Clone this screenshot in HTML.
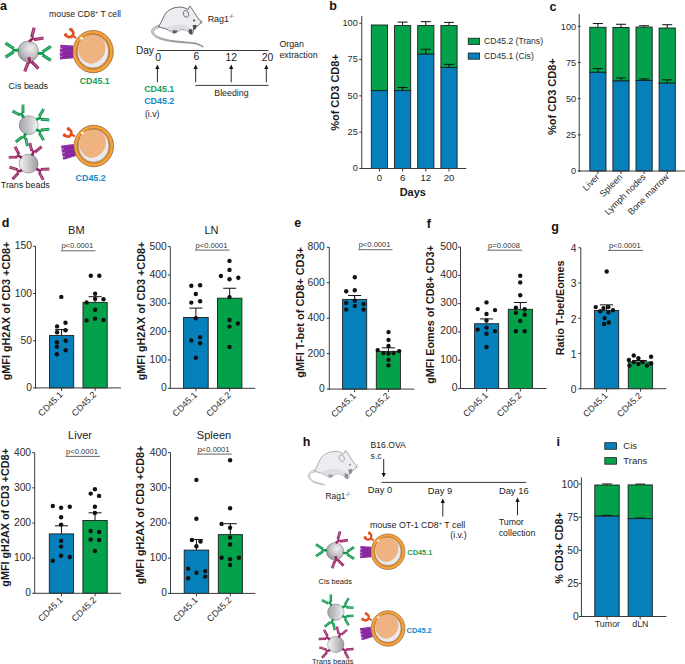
<!DOCTYPE html>
<html><head><meta charset="utf-8"><style>
html,body{margin:0;padding:0;background:#fff;}
svg{display:block;font-family:"Liberation Sans", sans-serif;}
</style></head><body>
<svg width="685" height="664" viewBox="0 0 685 664">

<defs>
  <radialGradient id="beadA" cx="0.62" cy="0.35" r="0.75">
    <stop offset="0" stop-color="#efefef"/><stop offset="0.55" stop-color="#c2c2c6"/><stop offset="1" stop-color="#88888e"/>
  </radialGradient>
  <linearGradient id="beadR" x1="0" y1="0" x2="1" y2="0">
    <stop offset="0" stop-color="#a3a3a8"/><stop offset="0.6" stop-color="#cfcfd2"/><stop offset="1" stop-color="#f4f4f4"/>
  </linearGradient>
  <linearGradient id="beadL" x1="0" y1="0" x2="1" y2="0">
    <stop offset="0" stop-color="#f4f4f4"/><stop offset="0.45" stop-color="#cfcfd2"/><stop offset="1" stop-color="#9b9ba0"/>
  </linearGradient>
  <g id="ab">
    <rect x="-0.8" y="-1.45" width="6.4" height="2.9" fill="currentColor"/>
    <g transform="translate(4.8,-2.0) rotate(-33)">
      <rect x="-0.6" y="-1.6" width="9.8" height="3.2" fill="currentColor"/>
      <line x1="1.0" y1="0" x2="9.0" y2="0" stroke="#fff" stroke-width="0.45" opacity="0.7"/>
    </g>
    <g transform="translate(4.8,2.0) rotate(33)">
      <rect x="-0.6" y="-1.6" width="9.8" height="3.2" fill="currentColor"/>
      <line x1="1.0" y1="0" x2="9.0" y2="0" stroke="#fff" stroke-width="0.45" opacity="0.7"/>
    </g>
  </g>
  <g id="ab2">
    <rect x="-0.8" y="-1.4" width="5.6" height="2.8" fill="currentColor"/>
    <g transform="translate(4.0,-2.0) rotate(-32)">
      <rect x="-0.6" y="-1.45" width="8.6" height="2.9" fill="currentColor"/>
      <line x1="1.0" y1="0" x2="8.0" y2="0" stroke="#fff" stroke-width="0.45" opacity="0.7"/>
    </g>
    <g transform="translate(4.0,2.0) rotate(32)">
      <rect x="-0.6" y="-1.45" width="8.6" height="2.9" fill="currentColor"/>
      <line x1="1.0" y1="0" x2="8.0" y2="0" stroke="#fff" stroke-width="0.45" opacity="0.7"/>
    </g>
  </g>
  <g id="trec">
    <path d="M-20.0,-6.0 L-33.0,-6.8 L-32.6,-3.2 L-33.4,-2.6 L-32.8,0.8 L-33.6,1.4 L-32.9,4.6 L-33.5,5.2 L-33.0,7.9 L-19.8,6.6 Z" fill="#8e2ca5"/>
    <path d="M-33.6,-3.0 L-30.6,-2.9 M-33.8,1.1 L-30.4,1.15 M-33.8,4.9 L-30.8,4.85" stroke="#fff" stroke-width="0.45"/>
    <path d="M-30.6,-2.9 L-21,-2.6 M-30.4,1.15 L-21,1.3 M-30.8,4.85 L-21,4.6" stroke="#6a1d80" stroke-width="0.4"/>
    <path d="M-17.0,-13.4 L-21.4,-16.6" stroke="#e2501d" stroke-width="2.2"/>
    <path d="M-27.3,-16.9 A3.9,3.9 0 1 0 -22.4,-22.0" fill="none" stroke="#e2501d" stroke-width="2.8" stroke-linecap="round"/>
    <circle cx="-27.4" cy="-16.6" r="1.7" fill="#e2501d"/>
    <circle cx="-22.2" cy="-22.2" r="1.7" fill="#e2501d"/>
  </g>
  <g id="tbody">
    <ellipse cx="0" cy="0" rx="20.2" ry="21.2" fill="#f5a23a" stroke="#6b4524" stroke-width="0.6"/>
    <ellipse cx="-0.1" cy="-0.1" rx="16.7" ry="17.7" fill="none" stroke="#6b4524" stroke-width="0.45"/>
    <ellipse cx="-0.2" cy="-0.2" rx="15.7" ry="16.7" fill="#e9e9ee" stroke="#6b4524" stroke-width="0.45"/>
    <path d="M-1.2,-16.6 C4.8,-16.6 10.3,-13.3 11.9,-7.8 C12.9,-3.3 12.3,1 10.3,4.2 C8.3,7.4 4.3,11.4 -1.5,12.1 C-7.2,12.5 -12.9,8 -14.7,1 C-15.9,-6 -13.1,-13.1 -7.2,-15.7 C-5.3,-16.4 -3.2,-16.6 -1.2,-16.6 Z" fill="#efb381"/>
    <circle cx="-11.6" cy="-13.2" r="1.3" fill="#fff"/>
  </g>
</defs>

<g transform="translate(28.2,51.4) scale(1.0)">
<circle cx="0" cy="0" r="10.4" fill="url(#beadA)" stroke="#6d6d70" stroke-width="0.55"/>
<use href="#ab" transform="translate(-10.20,-1.20) rotate(180)" style="color:#0f9a4e"/>
<use href="#ab" transform="translate(10.20,2.00) rotate(0)" style="color:#0f9a4e"/>
<use href="#ab" transform="translate(1.40,-10.20) rotate(-42)" style="color:#982866"/>
<use href="#ab" transform="translate(0.80,6.40) rotate(78)" style="color:#982866"/>
</g>
<g transform="translate(93.1,51.6) scale(1.0)"><use href="#trec" transform="rotate(0)"/><use href="#tbody"/></g>
<g transform="translate(28.7,125.2) scale(1.0)">
<circle cx="0" cy="0" r="9.5" fill="url(#beadR)" stroke="#6d6d70" stroke-width="0.55"/>
<use href="#ab2" transform="translate(-5.30,-8.20) rotate(-122)" style="color:#0f9a4e"/>
<use href="#ab2" transform="translate(8.20,-5.80) rotate(-27)" style="color:#0f9a4e"/>
<use href="#ab2" transform="translate(8.20,4.70) rotate(27)" style="color:#0f9a4e"/>
<use href="#ab2" transform="translate(-3.40,8.80) rotate(110)" style="color:#0f9a4e"/>
</g>
<g transform="translate(28.6,163.6) scale(1.0)">
<circle cx="0" cy="0" r="9.5" fill="url(#beadL)" stroke="#6d6d70" stroke-width="0.55"/>
<use href="#ab2" transform="translate(-7.40,-6.20) rotate(-150)" style="color:#982866"/>
<use href="#ab2" transform="translate(3.80,-8.60) rotate(-72)" style="color:#982866"/>
<use href="#ab2" transform="translate(-7.20,6.90) rotate(166)" style="color:#982866"/>
<use href="#ab2" transform="translate(8.30,5.60) rotate(29)" style="color:#982866"/>
</g>
<g transform="translate(93.8,146.0) scale(0.98)"><use href="#trec" transform="rotate(-11)"/><use href="#tbody"/></g>
<g transform="translate(335.0,551.3) scale(0.84)">
<circle cx="0" cy="0" r="10.4" fill="url(#beadA)" stroke="#6d6d70" stroke-width="0.55"/>
<use href="#ab" transform="translate(-10.20,-1.20) rotate(180)" style="color:#0f9a4e"/>
<use href="#ab" transform="translate(10.20,2.00) rotate(0)" style="color:#0f9a4e"/>
<use href="#ab" transform="translate(1.40,-10.20) rotate(-42)" style="color:#982866"/>
<use href="#ab" transform="translate(0.80,6.40) rotate(78)" style="color:#982866"/>
</g>
<g transform="translate(388.0,551.7) scale(0.84)"><use href="#trec" transform="rotate(0)"/><use href="#tbody"/></g>
<g transform="translate(335.8,612.2) scale(0.86)">
<circle cx="0" cy="0" r="9.5" fill="url(#beadR)" stroke="#6d6d70" stroke-width="0.55"/>
<use href="#ab2" transform="translate(-5.30,-8.20) rotate(-122)" style="color:#0f9a4e"/>
<use href="#ab2" transform="translate(8.20,-5.80) rotate(-27)" style="color:#0f9a4e"/>
<use href="#ab2" transform="translate(8.20,4.70) rotate(27)" style="color:#0f9a4e"/>
<use href="#ab2" transform="translate(-3.40,8.80) rotate(110)" style="color:#0f9a4e"/>
</g>
<g transform="translate(335.8,644.4) scale(0.86)">
<circle cx="0" cy="0" r="9.5" fill="url(#beadL)" stroke="#6d6d70" stroke-width="0.55"/>
<use href="#ab2" transform="translate(-7.40,-6.20) rotate(-150)" style="color:#982866"/>
<use href="#ab2" transform="translate(3.80,-8.60) rotate(-72)" style="color:#982866"/>
<use href="#ab2" transform="translate(-7.20,6.90) rotate(166)" style="color:#982866"/>
<use href="#ab2" transform="translate(8.30,5.60) rotate(29)" style="color:#982866"/>
</g>
<g transform="translate(388.0,628.5) scale(0.84)"><use href="#trec" transform="rotate(-11)"/><use href="#tbody"/></g>
<g transform="translate(0,0)" opacity="1.0">
<path d="M159.08,25.09 L158.81,25.23 L158.44,25.40 L157.99,25.59 L157.48,25.82 L156.92,26.07 L156.34,26.33 L155.75,26.61 L155.16,26.89 L154.61,27.19 L154.09,27.48 L153.62,27.79 L153.22,28.11 L152.89,28.43 L152.61,28.75 L152.38,29.09 L152.18,29.43 L152.03,29.78 L151.91,30.13 L151.83,30.47 L151.78,30.81 L151.75,31.14 L151.75,31.46 L151.76,31.78 L151.79,32.08 L151.84,32.39 L151.91,32.70 L152.00,33.01 L152.12,33.32 L152.26,33.63 L152.42,33.93 L152.61,34.23 L152.82,34.52 L153.06,34.81 L153.32,35.09 L153.61,35.37 L153.93,35.64 L154.25,35.91 L154.59,36.17 L154.95,36.44 L155.34,36.71 L155.75,36.98 L156.19,37.25 L156.66,37.52 L157.17,37.78 L157.71,38.04 L158.29,38.29 L158.92,38.54 L159.59,38.79 L160.31,39.03 L161.07,39.27 L161.88,39.51 L162.74,39.75 L163.62,39.99 L164.55,40.22 L165.50,40.44 L166.47,40.66 L167.46,40.87 L168.47,41.07 L169.49,41.25 L170.51,41.42 L171.57,41.58 L172.66,41.72 L173.79,41.85 L174.94,41.96 L176.11,42.07 L177.29,42.17 L178.48,42.26 L179.66,42.36 L180.82,42.45 L181.96,42.54 L183.08,42.63 L184.16,42.74 L185.22,42.83 L186.29,42.92 L187.35,43.00 L188.41,43.08 L189.45,43.15 L190.47,43.23 L191.46,43.31 L192.43,43.40 L193.37,43.51 L194.26,43.63 L195.12,43.77 L195.92,43.93 L196.69,44.13 L197.44,44.37 L198.17,44.64 L198.88,44.93 L199.56,45.24 L200.20,45.55 L200.81,45.85 L201.37,46.15 L201.88,46.42 L202.34,46.66 L202.75,46.87 L203.09,47.03 L203.31,46.57 L202.98,46.41 L202.60,46.20 L202.15,45.94 L201.64,45.65 L201.08,45.34 L200.47,45.02 L199.82,44.69 L199.13,44.36 L198.41,44.04 L197.66,43.75 L196.88,43.49 L196.08,43.27 L195.25,43.08 L194.38,42.92 L193.46,42.78 L192.52,42.66 L191.54,42.55 L190.53,42.45 L189.51,42.36 L188.47,42.27 L187.42,42.17 L186.36,42.08 L185.30,41.98 L184.24,41.86 L183.16,41.75 L182.05,41.64 L180.90,41.53 L179.74,41.42 L178.56,41.31 L177.38,41.21 L176.21,41.09 L175.04,40.97 L173.90,40.84 L172.79,40.70 L171.72,40.54 L170.69,40.38 L169.68,40.19 L168.68,39.99 L167.69,39.78 L166.72,39.56 L165.76,39.33 L164.83,39.10 L163.93,38.85 L163.06,38.61 L162.23,38.36 L161.44,38.11 L160.70,37.86 L160.01,37.61 L159.38,37.37 L158.80,37.12 L158.26,36.87 L157.77,36.61 L157.31,36.36 L156.89,36.10 L156.49,35.84 L156.13,35.59 L155.79,35.33 L155.47,35.07 L155.16,34.81 L154.87,34.56 L154.61,34.32 L154.39,34.08 L154.19,33.85 L154.02,33.62 L153.88,33.40 L153.76,33.18 L153.65,32.97 L153.57,32.76 L153.51,32.55 L153.46,32.34 L153.43,32.13 L153.41,31.92 L153.40,31.70 L153.40,31.47 L153.42,31.25 L153.45,31.04 L153.49,30.84 L153.55,30.64 L153.63,30.44 L153.73,30.25 L153.85,30.06 L154.00,29.87 L154.18,29.68 L154.38,29.49 L154.66,29.30 L155.03,29.07 L155.48,28.83 L155.99,28.57 L156.54,28.32 L157.11,28.07 L157.68,27.83 L158.23,27.60 L158.75,27.39 L159.22,27.20 L159.61,27.04 L159.92,26.91 Z" fill="#f0f0f3" stroke="#3c3c40" stroke-width="0.55" stroke-linejoin="round"/>
<path d="M158.5,26.6 C160,24.5 161.8,21 163.3,17.8 C164.6,14.5 166,12.5 168.5,10.6 C171.5,8.5 175,7.3 179,7.1 C182.5,7 185.5,7.9 188,9.6 L189.8,6.0 C191.6,8 193.4,11 194.9,13.5 C196.7,16.3 198.4,19 200.9,21.6 C200.7,23 200,24.1 198.5,25.2 C197,26.2 195.5,27 194.2,28 C193.6,30.5 192.9,33 192.1,34.6 C190.1,33.3 188.6,31.9 187.4,31 C185,29.8 183,29.1 180.5,29.7 C178.2,31.2 176,33 173.1,32.7 C170.5,31.3 168,29.6 165,28.6 C162.5,27.9 160.5,27.5 158.5,26.6 Z" fill="#ececf1" stroke="#3c3c40" stroke-width="0.75" stroke-linejoin="round"/>
<path d="M165,27.6 C170,25.5 176,24.6 181.5,24.8 C185.5,25 188.5,26.4 190.5,28.6 C189.3,29.8 188.2,30.8 187.4,31 C185,29.8 183,29.1 180.5,29.7 C178.2,31.2 176,33 173.1,32.7 C170.5,31.3 168,29.2 165,27.6 Z" fill="#dcdce3"/>
<ellipse cx="186.0" cy="13.9" rx="2.7" ry="3.5" transform="rotate(-20 186 13.9)" fill="#e6e6ec" stroke="#3c3c40" stroke-width="0.6"/>
<circle cx="194.1" cy="20.4" r="1.0" fill="#3c3c40"/>
<path d="M172.3,30.3 L173.2,33.2 L175,33.4 L176.6,32.6 L177.4,30.4 Z" fill="#5a5a5e"/>
<path d="M188.8,29 L189.2,33.5 L190.6,34.6 L192.2,33.4 L192.4,29.6 Z M192.6,25.2 L193.4,29.4 L195.4,29.6 L196.8,26.8 L196.2,24.8 Z" fill="#4e4e52"/>
<path d="M200.6,21.4 L202.4,19.6 M200.8,22 L202.8,22.4 M200.4,22.4 L201.8,24.2" stroke="#3c3c40" stroke-width="0.4"/>
</g>
<g transform="translate(155.7,444.3)" opacity="0.95">
<path d="M161.62,25.04 L161.35,25.13 L160.99,25.24 L160.55,25.37 L160.05,25.51 L159.50,25.67 L158.93,25.83 L158.34,26.01 L157.76,26.20 L157.19,26.40 L156.65,26.60 L156.15,26.82 L155.71,27.05 L155.33,27.27 L154.97,27.50 L154.63,27.75 L154.31,28.00 L154.01,28.26 L153.73,28.53 L153.48,28.82 L153.25,29.11 L153.04,29.42 L152.87,29.74 L152.73,30.07 L152.63,30.41 L152.56,30.76 L152.53,31.11 L152.54,31.46 L152.58,31.82 L152.64,32.17 L152.74,32.52 L152.87,32.87 L153.02,33.21 L153.19,33.55 L153.39,33.89 L153.62,34.21 L153.86,34.53 L154.11,34.84 L154.38,35.15 L154.67,35.46 L154.98,35.78 L155.32,36.10 L155.68,36.41 L156.08,36.73 L156.51,37.03 L156.98,37.33 L157.49,37.62 L158.04,37.90 L158.64,38.17 L159.33,38.43 L160.14,38.69 L161.03,38.95 L161.97,39.20 L162.96,39.45 L163.95,39.69 L164.93,39.92 L165.86,40.13 L166.73,40.32 L167.50,40.48 L168.14,40.63 L168.64,40.74 L168.76,40.26 L168.27,40.12 L167.62,39.95 L166.86,39.76 L166.00,39.54 L165.08,39.31 L164.11,39.06 L163.13,38.80 L162.16,38.53 L161.23,38.25 L160.37,37.98 L159.60,37.70 L158.96,37.43 L158.41,37.16 L157.91,36.88 L157.45,36.59 L157.03,36.30 L156.65,36.00 L156.31,35.70 L155.99,35.39 L155.70,35.09 L155.43,34.78 L155.19,34.47 L154.96,34.17 L154.74,33.87 L154.55,33.58 L154.38,33.30 L154.24,33.01 L154.12,32.73 L154.02,32.45 L153.95,32.18 L153.90,31.92 L153.87,31.67 L153.86,31.43 L153.88,31.20 L153.92,30.99 L153.97,30.79 L154.05,30.60 L154.15,30.41 L154.28,30.22 L154.43,30.03 L154.61,29.84 L154.82,29.64 L155.04,29.45 L155.29,29.26 L155.57,29.08 L155.86,28.89 L156.17,28.72 L156.49,28.55 L156.84,28.40 L157.27,28.24 L157.76,28.08 L158.29,27.92 L158.85,27.76 L159.42,27.62 L159.98,27.48 L160.52,27.35 L161.03,27.23 L161.48,27.13 L161.87,27.04 L162.18,26.96 Z" fill="#f0f0f3" stroke="#8c8c92" stroke-width="0.55" stroke-linejoin="round"/>
<path d="M158.5,26.6 C160,24.5 161.8,21 163.3,17.8 C164.6,14.5 166,12.5 168.5,10.6 C171.5,8.5 175,7.3 179,7.1 C182.5,7 185.5,7.9 188,9.6 L189.8,6.0 C191.6,8 193.4,11 194.9,13.5 C196.7,16.3 198.4,19 200.9,21.6 C200.7,23 200,24.1 198.5,25.2 C197,26.2 195.5,27 194.2,28 C193.6,30.5 192.9,33 192.1,34.6 C190.1,33.3 188.6,31.9 187.4,31 C185,29.8 183,29.1 180.5,29.7 C178.2,31.2 176,33 173.1,32.7 C170.5,31.3 168,29.6 165,28.6 C162.5,27.9 160.5,27.5 158.5,26.6 Z" fill="#ececf1" stroke="#8c8c92" stroke-width="0.75" stroke-linejoin="round"/>
<path d="M165,27.6 C170,25.5 176,24.6 181.5,24.8 C185.5,25 188.5,26.4 190.5,28.6 C189.3,29.8 188.2,30.8 187.4,31 C185,29.8 183,29.1 180.5,29.7 C178.2,31.2 176,33 173.1,32.7 C170.5,31.3 168,29.2 165,27.6 Z" fill="#dcdce3"/>
<ellipse cx="186.0" cy="13.9" rx="2.7" ry="3.5" transform="rotate(-20 186 13.9)" fill="#e6e6ec" stroke="#8c8c92" stroke-width="0.6"/>
<circle cx="194.1" cy="20.4" r="1.0" fill="#8c8c92"/>
<path d="M172.3,30.3 L173.2,33.2 L175,33.4 L176.6,32.6 L177.4,30.4 Z" fill="#9a9aa0"/>
<path d="M188.8,29 L189.2,33.5 L190.6,34.6 L192.2,33.4 L192.4,29.6 Z M192.6,25.2 L193.4,29.4 L195.4,29.6 L196.8,26.8 L196.2,24.8 Z" fill="#8a8a90"/>
<path d="M200.6,21.4 L202.4,19.6 M200.8,22 L202.8,22.4 M200.4,22.4 L201.8,24.2" stroke="#8c8c92" stroke-width="0.4"/>
</g>
<text x="49.1" y="16.7" font-size="8.7" fill="#222" text-anchor="start">mouse CD8<tspan font-size="5.5" dy="-3.2">+</tspan><tspan dy="3.2"> T cell</tspan></text>
<text x="79.7" y="84.1" font-size="8.9" fill="#16a05a" font-weight="bold" text-anchor="start">CD45.1</text>
<text x="8.6" y="89.4" font-size="8.9" fill="#222" text-anchor="start">Cis beads</text>
<text x="75.6" y="180.5" font-size="8.9" fill="#1787c8" font-weight="bold" text-anchor="start">CD45.2</text>
<text x="0.8" y="187.9" font-size="8.9" fill="#222" text-anchor="start">Trans beads</text>
<text x="207.7" y="21.8" font-size="8.9" fill="#222" text-anchor="start">Rag1<tspan font-size="5.5" dy="-3.4">-/-</tspan></text>
<text x="135.9" y="53.5" font-size="10.1" fill="#222" text-anchor="start">Day</text>
<line x1="157.2" y1="50.5" x2="268.5" y2="50.5" stroke="#222" stroke-width="0.9"/>
<text x="158.2" y="61.0" font-size="10.4" fill="#222" text-anchor="middle">0</text>
<text x="196.3" y="59.7" font-size="10.4" fill="#222" text-anchor="middle">6</text>
<text x="231.3" y="61.0" font-size="10.4" fill="#222" text-anchor="middle">12</text>
<text x="267.5" y="61.0" font-size="10.4" fill="#222" text-anchor="middle">20</text>
<text x="279.4" y="46.6" font-size="8.8" fill="#222" text-anchor="start">Organ</text>
<text x="279.4" y="58.0" font-size="8.8" fill="#222" text-anchor="start">extraction</text>
<line x1="157.4" y1="68.5" x2="157.4" y2="82.3" stroke="#111" stroke-width="0.9"/>
<path d="M155.3,69.0 L157.4,64.4 L159.5,69.0 Z" fill="#111"/>
<line x1="195.7" y1="68.5" x2="195.7" y2="82.3" stroke="#111" stroke-width="0.9"/>
<path d="M193.6,69.0 L195.7,64.4 L197.79999999999998,69.0 Z" fill="#111"/>
<line x1="231.2" y1="68.5" x2="231.2" y2="82.3" stroke="#111" stroke-width="0.9"/>
<path d="M229.1,69.0 L231.2,64.4 L233.29999999999998,69.0 Z" fill="#111"/>
<line x1="266.3" y1="68.5" x2="266.3" y2="82.3" stroke="#111" stroke-width="0.9"/>
<path d="M264.2,69.0 L266.3,64.4 L268.40000000000003,69.0 Z" fill="#111"/>
<line x1="195.3" y1="85.4" x2="268.6" y2="85.4" stroke="#222" stroke-width="0.9"/>
<text x="214.3" y="95.6" font-size="8.8" fill="#222" text-anchor="start">Bleeding</text>
<text x="144.2" y="92.0" font-size="8.9" fill="#16a05a" font-weight="bold" text-anchor="start">CD45.1</text>
<text x="144.2" y="104.4" font-size="8.9" fill="#1787c8" font-weight="bold" text-anchor="start">CD45.2</text>
<text x="144.9" y="116.6" font-size="8.8" fill="#222" text-anchor="start">(i.v)</text>
<text x="370.6" y="448.0" font-size="8.6" fill="#222" text-anchor="start">B16.OVA</text>
<text x="370.6" y="458.9" font-size="8.6" fill="#222" text-anchor="start">s.c</text>
<line x1="383.7" y1="459.0" x2="383.7" y2="473.4" stroke="#111" stroke-width="0.9"/>
<path d="M381.59999999999997,472.9 L383.7,477.5 L385.8,472.9 Z" fill="#111"/>
<line x1="381.5" y1="482.4" x2="526.3" y2="482.4" stroke="#222" stroke-width="0.9"/>
<text x="367.7" y="493.3" font-size="9.4" fill="#222" text-anchor="start">Day 0</text>
<text x="427.7" y="494.3" font-size="9.4" fill="#222" text-anchor="start">Day 9</text>
<text x="498.9" y="494.3" font-size="9.4" fill="#222" text-anchor="start">Day 16</text>
<line x1="442.8" y1="502.5" x2="442.8" y2="516.5" stroke="#111" stroke-width="0.9"/>
<path d="M440.7,503.0 L442.8,498.4 L444.90000000000003,503.0 Z" fill="#111"/>
<line x1="517.5" y1="501.40000000000003" x2="517.5" y2="515.2" stroke="#111" stroke-width="0.9"/>
<path d="M515.4,501.90000000000003 L517.5,497.3 L519.6,501.90000000000003 Z" fill="#111"/>
<text x="325.5" y="499.4" font-size="8.4" fill="#222" text-anchor="start">Rag1<tspan font-size="5.2" dy="-3.2">-/-</tspan></text>
<text x="369.9" y="527.9" font-size="8.85" fill="#222" text-anchor="start">mouse OT-1 CD8<tspan font-size="5.6" dy="-3.2">+</tspan><tspan dy="3.2"> T cell</tspan></text>
<text x="450.3" y="537.8" font-size="8.8" fill="#222" text-anchor="start">(i.v.)</text>
<text x="498.7" y="525.3" font-size="8.8" fill="#222" text-anchor="start">Tumor</text>
<text x="498.7" y="536.0" font-size="8.8" fill="#222" text-anchor="start">collection</text>
<text x="407.3" y="555.2" font-size="7.4" fill="#16a05a" font-weight="bold" text-anchor="start">CD45.1</text>
<text x="406.6" y="633.4" font-size="7.4" fill="#1787c8" font-weight="bold" text-anchor="start">CD45.2</text>
<text x="318.6" y="583.6" font-size="7.5" fill="#222" text-anchor="start">Cis beads</text>
<text x="312.0" y="664.0" font-size="7.5" fill="#222" text-anchor="start">Trans beads</text>
<text x="0" y="10" font-size="12.5" font-weight="bold" text-anchor="start" fill="#111">a</text>
<text x="329.3" y="10" font-size="12.5" font-weight="bold" text-anchor="start" fill="#111">b</text>
<text x="549.6" y="11.3" font-size="12.5" font-weight="bold" text-anchor="start" fill="#111">c</text>
<text x="1.8" y="227.2" font-size="12.5" font-weight="bold" text-anchor="start" fill="#111">d</text>
<text x="294.2" y="226.7" font-size="12.5" font-weight="bold" text-anchor="start" fill="#111">e</text>
<text x="426.8" y="228.4" font-size="12.5" font-weight="bold" text-anchor="start" fill="#111">f</text>
<text x="551.3" y="231" font-size="12.5" font-weight="bold" text-anchor="start" fill="#111">g</text>
<text x="302.8" y="445.9" font-size="12.5" font-weight="bold" text-anchor="start" fill="#111">h</text>
<text x="556.5" y="445.9" font-size="12.5" font-weight="bold" text-anchor="start" fill="#111">i</text>
<line x1="361.75" y1="16" x2="361.75" y2="169.0" stroke="#3a3a3a" stroke-width="1"/>
<line x1="359.25" y1="168.5" x2="361.75" y2="168.5" stroke="#3a3a3a" stroke-width="1"/>
<text x="357.75" y="171.3" font-size="9.2" text-anchor="end" fill="#2a2a2a">0</text>
<line x1="359.25" y1="132.1875" x2="361.75" y2="132.1875" stroke="#3a3a3a" stroke-width="1"/>
<text x="357.75" y="134.9875" font-size="9.2" text-anchor="end" fill="#2a2a2a">25</text>
<line x1="359.25" y1="95.875" x2="361.75" y2="95.875" stroke="#3a3a3a" stroke-width="1"/>
<text x="357.75" y="98.675" font-size="9.2" text-anchor="end" fill="#2a2a2a">50</text>
<line x1="359.25" y1="59.562500000000014" x2="361.75" y2="59.562500000000014" stroke="#3a3a3a" stroke-width="1"/>
<text x="357.75" y="62.36250000000001" font-size="9.2" text-anchor="end" fill="#2a2a2a">75</text>
<line x1="359.25" y1="23.25" x2="361.75" y2="23.25" stroke="#3a3a3a" stroke-width="1"/>
<text x="357.75" y="26.05" font-size="9.2" text-anchor="end" fill="#2a2a2a">100</text>
<rect x="371.3" y="24.993000000000023" width="16.2" height="65.65299999999998" fill="#04a14b" stroke="#1e1e1e" stroke-width="0.9"/>
<rect x="371.3" y="90.646" width="16.2" height="77.854" fill="#0580ba" stroke="#1e1e1e" stroke-width="0.9"/>
<line x1="402.6" y1="25.574000000000012" x2="402.6" y2="22.08800000000001" stroke="#111" stroke-width="1"/>
<line x1="397.6" y1="22.08800000000001" x2="407.6" y2="22.08800000000001" stroke="#111" stroke-width="1"/>
<rect x="394.5" y="25.574000000000012" width="16.2" height="65.07199999999999" fill="#04a14b" stroke="#1e1e1e" stroke-width="0.9"/>
<line x1="402.6" y1="90.646" x2="402.6" y2="87.4505" stroke="#111" stroke-width="1"/>
<line x1="397.6" y1="87.4505" x2="407.6" y2="87.4505" stroke="#111" stroke-width="1"/>
<rect x="394.5" y="90.646" width="16.2" height="77.854" fill="#0580ba" stroke="#1e1e1e" stroke-width="0.9"/>
<line x1="425.8" y1="25.574000000000012" x2="425.8" y2="21.652250000000013" stroke="#111" stroke-width="1"/>
<line x1="420.8" y1="21.652250000000013" x2="430.8" y2="21.652250000000013" stroke="#111" stroke-width="1"/>
<rect x="417.7" y="25.574000000000012" width="16.2" height="28.614249999999984" fill="#04a14b" stroke="#1e1e1e" stroke-width="0.9"/>
<line x1="425.8" y1="54.18825" x2="425.8" y2="49.24975" stroke="#111" stroke-width="1"/>
<line x1="420.8" y1="49.24975" x2="430.8" y2="49.24975" stroke="#111" stroke-width="1"/>
<rect x="417.7" y="54.18825" width="16.2" height="114.31175" fill="#0580ba" stroke="#1e1e1e" stroke-width="0.9"/>
<line x1="449.0" y1="25.574000000000012" x2="449.0" y2="22.378500000000013" stroke="#111" stroke-width="1"/>
<line x1="444.0" y1="22.378500000000013" x2="454.0" y2="22.378500000000013" stroke="#111" stroke-width="1"/>
<rect x="440.9" y="25.574000000000012" width="16.2" height="41.83200000000001" fill="#04a14b" stroke="#1e1e1e" stroke-width="0.9"/>
<line x1="449.0" y1="67.40600000000002" x2="449.0" y2="64.35575000000001" stroke="#111" stroke-width="1"/>
<line x1="444.0" y1="64.35575000000001" x2="454.0" y2="64.35575000000001" stroke="#111" stroke-width="1"/>
<rect x="440.9" y="67.40600000000002" width="16.2" height="101.09399999999998" fill="#0580ba" stroke="#1e1e1e" stroke-width="0.9"/>
<line x1="361.25" y1="168.5" x2="466.3" y2="168.5" stroke="#3a3a3a" stroke-width="1"/>
<line x1="379.40000000000003" y1="168.5" x2="379.40000000000003" y2="171.5" stroke="#3a3a3a" stroke-width="1"/>
<line x1="402.6" y1="168.5" x2="402.6" y2="171.5" stroke="#3a3a3a" stroke-width="1"/>
<line x1="425.8" y1="168.5" x2="425.8" y2="171.5" stroke="#3a3a3a" stroke-width="1"/>
<line x1="449.0" y1="168.5" x2="449.0" y2="171.5" stroke="#3a3a3a" stroke-width="1"/>
<text x="379.40000000000003" y="181.4" font-size="9.6" text-anchor="middle" fill="#2a2a2a">0</text>
<text x="402.6" y="181.4" font-size="9.6" text-anchor="middle" fill="#2a2a2a">6</text>
<text x="425.8" y="181.4" font-size="9.6" text-anchor="middle" fill="#2a2a2a">12</text>
<text x="449.0" y="181.4" font-size="9.6" text-anchor="middle" fill="#2a2a2a">20</text>
<text x="412.8" y="196.2" font-size="11" font-weight="bold" text-anchor="middle" fill="#1a1a1a">Days</text>
<text x="338.5" y="92.5" font-size="11" font-weight="bold" text-anchor="middle" fill="#1a1a1a" transform="rotate(-90 338.5 92.5)">%of CD3 CD8+</text>
<rect x="468.2" y="38.2" width="11.4" height="6.2" fill="#04a14b" stroke="#1e1e1e" stroke-width="0.8"/>
<rect x="468.2" y="53" width="11.4" height="6.2" fill="#0580ba" stroke="#1e1e1e" stroke-width="0.8"/>
<text x="484.1" y="44.2" font-size="8.6" text-anchor="start" fill="#2a2a2a">CD45.2 (Trans)</text>
<text x="484.1" y="59.2" font-size="8.6" text-anchor="start" fill="#2a2a2a">CD45.1 (Cis)</text>
<line x1="579.2" y1="13.8" x2="579.2" y2="171.5" stroke="#3a3a3a" stroke-width="1"/>
<line x1="577.7" y1="171.0" x2="580.7" y2="171.0" stroke="#3a3a3a" stroke-width="1"/>
<text x="576.2" y="174.4" font-size="9.2" text-anchor="end" fill="#2a2a2a">0</text>
<line x1="577.7" y1="134.825" x2="580.7" y2="134.825" stroke="#3a3a3a" stroke-width="1"/>
<text x="576.2" y="138.225" font-size="9.2" text-anchor="end" fill="#2a2a2a">25</text>
<line x1="577.7" y1="98.65" x2="580.7" y2="98.65" stroke="#3a3a3a" stroke-width="1"/>
<text x="576.2" y="102.05000000000001" font-size="9.2" text-anchor="end" fill="#2a2a2a">50</text>
<line x1="577.7" y1="62.47500000000001" x2="580.7" y2="62.47500000000001" stroke="#3a3a3a" stroke-width="1"/>
<text x="576.2" y="65.87500000000001" font-size="9.2" text-anchor="end" fill="#2a2a2a">75</text>
<line x1="577.7" y1="26.30000000000001" x2="580.7" y2="26.30000000000001" stroke="#3a3a3a" stroke-width="1"/>
<text x="576.2" y="29.70000000000001" font-size="9.2" text-anchor="end" fill="#2a2a2a">100</text>
<line x1="597.9" y1="27.312900000000013" x2="597.9" y2="23.550700000000013" stroke="#111" stroke-width="1"/>
<line x1="592.9" y1="23.550700000000013" x2="602.9" y2="23.550700000000013" stroke="#111" stroke-width="1"/>
<rect x="589.8" y="27.312900000000013" width="16.2" height="45.0017" fill="#04a14b" stroke="#1e1e1e" stroke-width="0.9"/>
<line x1="597.9" y1="72.31460000000001" x2="597.9" y2="68.55240000000002" stroke="#111" stroke-width="1"/>
<line x1="592.9" y1="68.55240000000002" x2="602.9" y2="68.55240000000002" stroke="#111" stroke-width="1"/>
<rect x="589.8" y="72.31460000000001" width="16.2" height="98.68539999999999" fill="#0580ba" stroke="#1e1e1e" stroke-width="0.9"/>
<line x1="621.0" y1="27.457600000000014" x2="621.0" y2="24.274200000000015" stroke="#111" stroke-width="1"/>
<line x1="616.0" y1="24.274200000000015" x2="626.0" y2="24.274200000000015" stroke="#111" stroke-width="1"/>
<rect x="612.9" y="27.457600000000014" width="16.2" height="53.53899999999999" fill="#04a14b" stroke="#1e1e1e" stroke-width="0.9"/>
<line x1="621.0" y1="80.9966" x2="621.0" y2="77.9579" stroke="#111" stroke-width="1"/>
<line x1="616.0" y1="77.9579" x2="626.0" y2="77.9579" stroke="#111" stroke-width="1"/>
<rect x="612.9" y="80.9966" width="16.2" height="90.0034" fill="#0580ba" stroke="#1e1e1e" stroke-width="0.9"/>
<line x1="644.1" y1="27.023500000000013" x2="644.1" y2="25.721200000000014" stroke="#111" stroke-width="1"/>
<line x1="639.1" y1="25.721200000000014" x2="649.1" y2="25.721200000000014" stroke="#111" stroke-width="1"/>
<rect x="636.0" y="27.023500000000013" width="16.2" height="53.3943" fill="#04a14b" stroke="#1e1e1e" stroke-width="0.9"/>
<line x1="644.1" y1="80.41780000000001" x2="644.1" y2="78.97080000000001" stroke="#111" stroke-width="1"/>
<line x1="639.1" y1="78.97080000000001" x2="649.1" y2="78.97080000000001" stroke="#111" stroke-width="1"/>
<rect x="636.0" y="80.41780000000001" width="16.2" height="90.58219999999999" fill="#0580ba" stroke="#1e1e1e" stroke-width="0.9"/>
<line x1="667.1999999999999" y1="28.036400000000015" x2="667.1999999999999" y2="24.708300000000015" stroke="#111" stroke-width="1"/>
<line x1="662.1999999999999" y1="24.708300000000015" x2="672.1999999999999" y2="24.708300000000015" stroke="#111" stroke-width="1"/>
<rect x="659.0999999999999" y="28.036400000000015" width="16.2" height="55.13069999999999" fill="#04a14b" stroke="#1e1e1e" stroke-width="0.9"/>
<line x1="667.1999999999999" y1="83.1671" x2="667.1999999999999" y2="79.839" stroke="#111" stroke-width="1"/>
<line x1="662.1999999999999" y1="79.839" x2="672.1999999999999" y2="79.839" stroke="#111" stroke-width="1"/>
<rect x="659.0999999999999" y="83.1671" width="16.2" height="87.8329" fill="#0580ba" stroke="#1e1e1e" stroke-width="0.9"/>
<line x1="578.7" y1="171.0" x2="685" y2="171.0" stroke="#3a3a3a" stroke-width="1"/>
<line x1="597.9" y1="171.0" x2="597.9" y2="174.0" stroke="#3a3a3a" stroke-width="1"/>
<line x1="621.0" y1="171.0" x2="621.0" y2="174.0" stroke="#3a3a3a" stroke-width="1"/>
<line x1="644.1" y1="171.0" x2="644.1" y2="174.0" stroke="#3a3a3a" stroke-width="1"/>
<line x1="667.1999999999999" y1="171.0" x2="667.1999999999999" y2="174.0" stroke="#3a3a3a" stroke-width="1"/>
<text x="556.3" y="96.6" font-size="11" font-weight="bold" text-anchor="middle" fill="#1a1a1a" transform="rotate(-90 556.3 96.6)">%of CD3 CD8+</text>
<text x="600.0" y="177.6" font-size="9" text-anchor="end" fill="#2a2a2a" transform="rotate(-45 600.0 177.6)">Liver</text>
<text x="623.1" y="177.6" font-size="9" text-anchor="end" fill="#2a2a2a" transform="rotate(-45 623.1 177.6)">Spleen</text>
<text x="646.2" y="177.6" font-size="9" text-anchor="end" fill="#2a2a2a" transform="rotate(-45 646.2 177.6)">Lymph nodes</text>
<text x="669.3" y="177.6" font-size="9" text-anchor="end" fill="#2a2a2a" transform="rotate(-45 669.3 177.6)">Bone marrow</text>
<line x1="35.5" y1="246.3" x2="35.5" y2="388.4" stroke="#3a3a3a" stroke-width="1"/>
<line x1="33.0" y1="387.9" x2="35.5" y2="387.9" stroke="#3a3a3a" stroke-width="1"/>
<text x="31.9" y="390.9" font-size="10.3" text-anchor="end" fill="#2a2a2a">0</text>
<line x1="33.0" y1="340.7" x2="35.5" y2="340.7" stroke="#3a3a3a" stroke-width="1"/>
<text x="31.9" y="343.7" font-size="10.3" text-anchor="end" fill="#2a2a2a">50</text>
<line x1="33.0" y1="293.5" x2="35.5" y2="293.5" stroke="#3a3a3a" stroke-width="1"/>
<text x="31.9" y="296.5" font-size="10.3" text-anchor="end" fill="#2a2a2a">100</text>
<line x1="33.0" y1="246.3" x2="35.5" y2="246.3" stroke="#3a3a3a" stroke-width="1"/>
<text x="31.9" y="249.3" font-size="10.3" text-anchor="end" fill="#2a2a2a">150</text>
<line x1="61.6" y1="335.4136" x2="61.6" y2="329.5608" stroke="#111" stroke-width="1"/>
<line x1="55.1" y1="329.5608" x2="68.1" y2="329.5608" stroke="#111" stroke-width="1"/>
<rect x="49.5" y="335.4136" width="24.2" height="52.4864" fill="#0580ba" stroke="#1e1e1e" stroke-width="0.9"/>
<line x1="95.1" y1="302.3736" x2="95.1" y2="296.7096" stroke="#111" stroke-width="1"/>
<line x1="88.6" y1="296.7096" x2="101.6" y2="296.7096" stroke="#111" stroke-width="1"/>
<rect x="83" y="302.3736" width="24.2" height="85.52639999999997" fill="#04a14b" stroke="#1e1e1e" stroke-width="0.9"/>
<circle cx="61.3" cy="296.9" r="2.2" fill="#111"/>
<circle cx="65.5" cy="322.7" r="2.2" fill="#111"/>
<circle cx="57.1" cy="326.4" r="2.2" fill="#111"/>
<circle cx="65.5" cy="330.2" r="2.2" fill="#111"/>
<circle cx="57.1" cy="332.2" r="2.2" fill="#111"/>
<circle cx="65.7" cy="340.8" r="2.2" fill="#111"/>
<circle cx="56.9" cy="342.3" r="2.2" fill="#111"/>
<circle cx="56.9" cy="346.7" r="2.2" fill="#111"/>
<circle cx="65.7" cy="350.3" r="2.2" fill="#111"/>
<circle cx="56.9" cy="354.3" r="2.2" fill="#111"/>
<circle cx="90.8" cy="275.8" r="2.2" fill="#111"/>
<circle cx="99.3" cy="275.8" r="2.2" fill="#111"/>
<circle cx="95.1" cy="293.7" r="2.2" fill="#111"/>
<circle cx="95.1" cy="298.9" r="2.2" fill="#111"/>
<circle cx="103.5" cy="299.2" r="2.2" fill="#111"/>
<circle cx="86.6" cy="302.5" r="2.2" fill="#111"/>
<circle cx="95.1" cy="309.8" r="2.2" fill="#111"/>
<circle cx="86.6" cy="320.4" r="2.2" fill="#111"/>
<circle cx="95.1" cy="318.8" r="2.2" fill="#111"/>
<circle cx="103.5" cy="320" r="2.2" fill="#111"/>
<line x1="35.0" y1="387.9" x2="121" y2="387.9" stroke="#3a3a3a" stroke-width="1"/>
<line x1="61.6" y1="387.9" x2="61.6" y2="390.9" stroke="#3a3a3a" stroke-width="1"/>
<line x1="95.1" y1="387.9" x2="95.1" y2="390.9" stroke="#3a3a3a" stroke-width="1"/>
<text x="63.4" y="395.29999999999995" font-size="9" text-anchor="end" fill="#2a2a2a" transform="rotate(-45 63.4 395.29999999999995)">CD45.1</text>
<text x="96.89999999999999" y="395.29999999999995" font-size="9" text-anchor="end" fill="#2a2a2a" transform="rotate(-45 96.89999999999999 395.29999999999995)">CD45.2</text>
<text x="77.35000000000001" y="248.20000000000002" font-size="7.6" text-anchor="middle" fill="#333">p&lt;0.0001</text>
<line x1="60.8" y1="250.8" x2="95.5" y2="250.8" stroke="#555" stroke-width="0.9"/>
<text x="76.3" y="233.6" font-size="11" text-anchor="middle" fill="#1a1a1a">BM</text>
<text x="9.9" y="311" font-size="10.8" font-weight="bold" text-anchor="middle" fill="#1a1a1a" transform="rotate(-90 9.9 311)">gMFI gH2AX of CD3 +CD8+</text>
<line x1="170.3" y1="246.6" x2="170.3" y2="388.8" stroke="#3a3a3a" stroke-width="1"/>
<line x1="167.8" y1="388.3" x2="170.3" y2="388.3" stroke="#3a3a3a" stroke-width="1"/>
<text x="166.70000000000002" y="391.3" font-size="10.3" text-anchor="end" fill="#2a2a2a">0</text>
<line x1="167.8" y1="359.96000000000004" x2="170.3" y2="359.96000000000004" stroke="#3a3a3a" stroke-width="1"/>
<text x="166.70000000000002" y="362.96000000000004" font-size="10.3" text-anchor="end" fill="#2a2a2a">100</text>
<line x1="167.8" y1="331.62" x2="170.3" y2="331.62" stroke="#3a3a3a" stroke-width="1"/>
<text x="166.70000000000002" y="334.62" font-size="10.3" text-anchor="end" fill="#2a2a2a">200</text>
<line x1="167.8" y1="303.28" x2="170.3" y2="303.28" stroke="#3a3a3a" stroke-width="1"/>
<text x="166.70000000000002" y="306.28" font-size="10.3" text-anchor="end" fill="#2a2a2a">300</text>
<line x1="167.8" y1="274.94" x2="170.3" y2="274.94" stroke="#3a3a3a" stroke-width="1"/>
<text x="166.70000000000002" y="277.94" font-size="10.3" text-anchor="end" fill="#2a2a2a">400</text>
<line x1="167.8" y1="246.6" x2="170.3" y2="246.6" stroke="#3a3a3a" stroke-width="1"/>
<text x="166.70000000000002" y="249.6" font-size="10.3" text-anchor="end" fill="#2a2a2a">500</text>
<line x1="195.9" y1="317.45" x2="195.9" y2="308.0978" stroke="#111" stroke-width="1"/>
<line x1="189.4" y1="308.0978" x2="202.4" y2="308.0978" stroke="#111" stroke-width="1"/>
<rect x="183.6" y="317.45" width="24.6" height="70.85000000000002" fill="#0580ba" stroke="#1e1e1e" stroke-width="0.9"/>
<line x1="229.7" y1="298.1788" x2="229.7" y2="288.25980000000004" stroke="#111" stroke-width="1"/>
<line x1="223.2" y1="288.25980000000004" x2="236.2" y2="288.25980000000004" stroke="#111" stroke-width="1"/>
<rect x="217.5" y="298.1788" width="24.4" height="90.12119999999999" fill="#04a14b" stroke="#1e1e1e" stroke-width="0.9"/>
<circle cx="191.3" cy="285.8" r="2.2" fill="#111"/>
<circle cx="200.1" cy="285.2" r="2.2" fill="#111"/>
<circle cx="195.8" cy="294" r="2.2" fill="#111"/>
<circle cx="191.3" cy="302.6" r="2.2" fill="#111"/>
<circle cx="200.1" cy="301.2" r="2.2" fill="#111"/>
<circle cx="195.8" cy="318.2" r="2.2" fill="#111"/>
<circle cx="200.1" cy="337.2" r="2.2" fill="#111"/>
<circle cx="191.3" cy="340.5" r="2.2" fill="#111"/>
<circle cx="200.1" cy="343.3" r="2.2" fill="#111"/>
<circle cx="195.8" cy="357.8" r="2.2" fill="#111"/>
<circle cx="229.5" cy="260.9" r="2.2" fill="#111"/>
<circle cx="229.5" cy="269.9" r="2.2" fill="#111"/>
<circle cx="220.9" cy="276" r="2.2" fill="#111"/>
<circle cx="229.5" cy="279.3" r="2.2" fill="#111"/>
<circle cx="238.3" cy="277.7" r="2.2" fill="#111"/>
<circle cx="229.5" cy="297.1" r="2.2" fill="#111"/>
<circle cx="229.5" cy="320" r="2.2" fill="#111"/>
<circle cx="229.5" cy="326.6" r="2.2" fill="#111"/>
<circle cx="237.9" cy="323.5" r="2.2" fill="#111"/>
<circle cx="229.5" cy="347" r="2.2" fill="#111"/>
<line x1="169.8" y1="388.3" x2="255.2" y2="388.3" stroke="#3a3a3a" stroke-width="1"/>
<line x1="195.9" y1="388.3" x2="195.9" y2="391.3" stroke="#3a3a3a" stroke-width="1"/>
<line x1="229.7" y1="388.3" x2="229.7" y2="391.3" stroke="#3a3a3a" stroke-width="1"/>
<text x="197.70000000000002" y="395.7" font-size="9" text-anchor="end" fill="#2a2a2a" transform="rotate(-45 197.70000000000002 395.7)">CD45.1</text>
<text x="231.5" y="395.7" font-size="9" text-anchor="end" fill="#2a2a2a" transform="rotate(-45 231.5 395.7)">CD45.2</text>
<text x="211.45" y="247.5" font-size="7.6" text-anchor="middle" fill="#333">p&lt;0.0001</text>
<line x1="195" y1="250.1" x2="229.5" y2="250.1" stroke="#555" stroke-width="0.9"/>
<text x="211.5" y="233.6" font-size="11" text-anchor="middle" fill="#1a1a1a">LN</text>
<text x="144.8" y="311" font-size="10.8" font-weight="bold" text-anchor="middle" fill="#1a1a1a" transform="rotate(-90 144.8 311)">gMFI gH2AX of CD3 +CD8+</text>
<line x1="34.7" y1="452.7" x2="34.7" y2="593.8" stroke="#3a3a3a" stroke-width="1"/>
<line x1="32.2" y1="593.3" x2="34.7" y2="593.3" stroke="#3a3a3a" stroke-width="1"/>
<text x="31.1" y="596.3" font-size="10.3" text-anchor="end" fill="#2a2a2a">0</text>
<line x1="32.2" y1="558.15" x2="34.7" y2="558.15" stroke="#3a3a3a" stroke-width="1"/>
<text x="31.1" y="561.15" font-size="10.3" text-anchor="end" fill="#2a2a2a">100</text>
<line x1="32.2" y1="523.0" x2="34.7" y2="523.0" stroke="#3a3a3a" stroke-width="1"/>
<text x="31.1" y="526.0" font-size="10.3" text-anchor="end" fill="#2a2a2a">200</text>
<line x1="32.2" y1="487.84999999999997" x2="34.7" y2="487.84999999999997" stroke="#3a3a3a" stroke-width="1"/>
<text x="31.1" y="490.84999999999997" font-size="10.3" text-anchor="end" fill="#2a2a2a">300</text>
<line x1="32.2" y1="452.7" x2="34.7" y2="452.7" stroke="#3a3a3a" stroke-width="1"/>
<text x="31.1" y="455.7" font-size="10.3" text-anchor="end" fill="#2a2a2a">400</text>
<line x1="61.449999999999996" y1="533.8965" x2="61.449999999999996" y2="525.8119999999999" stroke="#111" stroke-width="1"/>
<line x1="54.949999999999996" y1="525.8119999999999" x2="67.94999999999999" y2="525.8119999999999" stroke="#111" stroke-width="1"/>
<rect x="49.3" y="533.8965" width="24.3" height="59.40350000000001" fill="#0580ba" stroke="#1e1e1e" stroke-width="0.9"/>
<line x1="95.05000000000001" y1="520.5395" x2="95.05000000000001" y2="512.8065" stroke="#111" stroke-width="1"/>
<line x1="88.55000000000001" y1="512.8065" x2="101.55000000000001" y2="512.8065" stroke="#111" stroke-width="1"/>
<rect x="82.9" y="520.5395" width="24.3" height="72.76049999999998" fill="#04a14b" stroke="#1e1e1e" stroke-width="0.9"/>
<circle cx="52.8" cy="506" r="2.2" fill="#111"/>
<circle cx="61.1" cy="507.7" r="2.2" fill="#111"/>
<circle cx="69.8" cy="506.7" r="2.2" fill="#111"/>
<circle cx="61.1" cy="517.2" r="2.2" fill="#111"/>
<circle cx="61.1" cy="524.6" r="2.2" fill="#111"/>
<circle cx="61.1" cy="540.9" r="2.2" fill="#111"/>
<circle cx="61.1" cy="546.6" r="2.2" fill="#111"/>
<circle cx="61.1" cy="555.7" r="2.2" fill="#111"/>
<circle cx="69.8" cy="557" r="2.2" fill="#111"/>
<circle cx="52.8" cy="560.8" r="2.2" fill="#111"/>
<circle cx="94.9" cy="489.3" r="2.2" fill="#111"/>
<circle cx="90.7" cy="493.6" r="2.2" fill="#111"/>
<circle cx="99.1" cy="495.9" r="2.2" fill="#111"/>
<circle cx="94.9" cy="506.7" r="2.2" fill="#111"/>
<circle cx="94.9" cy="513" r="2.2" fill="#111"/>
<circle cx="90.7" cy="531" r="2.2" fill="#111"/>
<circle cx="99.1" cy="532" r="2.2" fill="#111"/>
<circle cx="90.7" cy="539.5" r="2.2" fill="#111"/>
<circle cx="99.1" cy="540" r="2.2" fill="#111"/>
<circle cx="94.9" cy="551" r="2.2" fill="#111"/>
<line x1="34.2" y1="593.3" x2="121" y2="593.3" stroke="#3a3a3a" stroke-width="1"/>
<line x1="61.449999999999996" y1="593.3" x2="61.449999999999996" y2="596.3" stroke="#3a3a3a" stroke-width="1"/>
<line x1="95.05000000000001" y1="593.3" x2="95.05000000000001" y2="596.3" stroke="#3a3a3a" stroke-width="1"/>
<text x="63.24999999999999" y="600.6999999999999" font-size="9" text-anchor="end" fill="#2a2a2a" transform="rotate(-45 63.24999999999999 600.6999999999999)">CD45.1</text>
<text x="96.85000000000001" y="600.6999999999999" font-size="9" text-anchor="end" fill="#2a2a2a" transform="rotate(-45 96.85000000000001 600.6999999999999)">CD45.2</text>
<text x="81.95" y="453.79999999999995" font-size="7.6" text-anchor="middle" fill="#333">p&lt;0.0001</text>
<line x1="65.5" y1="456.4" x2="100" y2="456.4" stroke="#555" stroke-width="0.9"/>
<text x="80" y="439.4" font-size="11" text-anchor="middle" fill="#1a1a1a">Liver</text>
<text x="9" y="517.4" font-size="10.8" font-weight="bold" text-anchor="middle" fill="#1a1a1a" transform="rotate(-90 9 517.4)">gMFI gH2AX of CD3 +CD8+</text>
<line x1="170.5" y1="452.6" x2="170.5" y2="593.9" stroke="#3a3a3a" stroke-width="1"/>
<line x1="168.0" y1="593.4" x2="170.5" y2="593.4" stroke="#3a3a3a" stroke-width="1"/>
<text x="166.9" y="596.4" font-size="10.3" text-anchor="end" fill="#2a2a2a">0</text>
<line x1="168.0" y1="558.2" x2="170.5" y2="558.2" stroke="#3a3a3a" stroke-width="1"/>
<text x="166.9" y="561.2" font-size="10.3" text-anchor="end" fill="#2a2a2a">100</text>
<line x1="168.0" y1="523.0" x2="170.5" y2="523.0" stroke="#3a3a3a" stroke-width="1"/>
<text x="166.9" y="526.0" font-size="10.3" text-anchor="end" fill="#2a2a2a">200</text>
<line x1="168.0" y1="487.8" x2="170.5" y2="487.8" stroke="#3a3a3a" stroke-width="1"/>
<text x="166.9" y="490.8" font-size="10.3" text-anchor="end" fill="#2a2a2a">300</text>
<line x1="168.0" y1="452.6" x2="170.5" y2="452.6" stroke="#3a3a3a" stroke-width="1"/>
<text x="166.9" y="455.6" font-size="10.3" text-anchor="end" fill="#2a2a2a">400</text>
<line x1="196.45" y1="550.104" x2="196.45" y2="539.5440000000001" stroke="#111" stroke-width="1"/>
<line x1="189.95" y1="539.5440000000001" x2="202.95" y2="539.5440000000001" stroke="#111" stroke-width="1"/>
<rect x="184.2" y="550.104" width="24.5" height="43.295999999999935" fill="#0580ba" stroke="#1e1e1e" stroke-width="0.9"/>
<line x1="230.35000000000002" y1="534.616" x2="230.35000000000002" y2="523.704" stroke="#111" stroke-width="1"/>
<line x1="223.85000000000002" y1="523.704" x2="236.85000000000002" y2="523.704" stroke="#111" stroke-width="1"/>
<rect x="218.3" y="534.616" width="24.1" height="58.78399999999999" fill="#04a14b" stroke="#1e1e1e" stroke-width="0.9"/>
<circle cx="196.4" cy="479.9" r="2.2" fill="#111"/>
<circle cx="196.4" cy="518.7" r="2.2" fill="#111"/>
<circle cx="191.9" cy="540" r="2.2" fill="#111"/>
<circle cx="200.5" cy="541.5" r="2.2" fill="#111"/>
<circle cx="196.4" cy="546.2" r="2.2" fill="#111"/>
<circle cx="188.2" cy="568.6" r="2.2" fill="#111"/>
<circle cx="196.4" cy="572.7" r="2.2" fill="#111"/>
<circle cx="205.2" cy="571.1" r="2.2" fill="#111"/>
<circle cx="188.2" cy="578.2" r="2.2" fill="#111"/>
<circle cx="205.2" cy="576.6" r="2.2" fill="#111"/>
<circle cx="230.1" cy="460.3" r="2.2" fill="#111"/>
<circle cx="230.1" cy="508.3" r="2.2" fill="#111"/>
<circle cx="221.6" cy="523.9" r="2.2" fill="#111"/>
<circle cx="230.1" cy="527.8" r="2.2" fill="#111"/>
<circle cx="230.1" cy="537.4" r="2.2" fill="#111"/>
<circle cx="230.1" cy="544.5" r="2.2" fill="#111"/>
<circle cx="221.6" cy="557.8" r="2.2" fill="#111"/>
<circle cx="238.9" cy="557.8" r="2.2" fill="#111"/>
<circle cx="230.1" cy="559.2" r="2.2" fill="#111"/>
<circle cx="230.1" cy="565" r="2.2" fill="#111"/>
<line x1="170.0" y1="593.4" x2="255.3" y2="593.4" stroke="#3a3a3a" stroke-width="1"/>
<line x1="196.45" y1="593.4" x2="196.45" y2="596.4" stroke="#3a3a3a" stroke-width="1"/>
<line x1="230.35000000000002" y1="593.4" x2="230.35000000000002" y2="596.4" stroke="#3a3a3a" stroke-width="1"/>
<text x="198.25" y="600.8" font-size="9" text-anchor="end" fill="#2a2a2a" transform="rotate(-45 198.25 600.8)">CD45.1</text>
<text x="232.15000000000003" y="600.8" font-size="9" text-anchor="end" fill="#2a2a2a" transform="rotate(-45 232.15000000000003 600.8)">CD45.2</text>
<text x="213.6" y="451.5" font-size="7.6" text-anchor="middle" fill="#333">p&lt;0.0001</text>
<line x1="197" y1="454.1" x2="231.8" y2="454.1" stroke="#555" stroke-width="0.9"/>
<text x="214" y="438.6" font-size="11" text-anchor="middle" fill="#1a1a1a">Spleen</text>
<text x="143.8" y="515" font-size="10.8" font-weight="bold" text-anchor="middle" fill="#1a1a1a" transform="rotate(-90 143.8 515)">gMFI gH2AX of CD3 +CD8+</text>
<line x1="329.3" y1="247.3" x2="329.3" y2="389.6" stroke="#3a3a3a" stroke-width="1"/>
<line x1="326.8" y1="389.1" x2="329.3" y2="389.1" stroke="#3a3a3a" stroke-width="1"/>
<text x="324.7" y="392.1" font-size="10.3" text-anchor="end" fill="#2a2a2a">0</text>
<line x1="326.8" y1="353.65000000000003" x2="329.3" y2="353.65000000000003" stroke="#3a3a3a" stroke-width="1"/>
<text x="324.7" y="356.65000000000003" font-size="10.3" text-anchor="end" fill="#2a2a2a">200</text>
<line x1="326.8" y1="318.20000000000005" x2="329.3" y2="318.20000000000005" stroke="#3a3a3a" stroke-width="1"/>
<text x="324.7" y="321.20000000000005" font-size="10.3" text-anchor="end" fill="#2a2a2a">400</text>
<line x1="326.8" y1="282.75" x2="329.3" y2="282.75" stroke="#3a3a3a" stroke-width="1"/>
<text x="324.7" y="285.75" font-size="10.3" text-anchor="end" fill="#2a2a2a">600</text>
<line x1="326.8" y1="247.3" x2="329.3" y2="247.3" stroke="#3a3a3a" stroke-width="1"/>
<text x="324.7" y="250.3" font-size="10.3" text-anchor="end" fill="#2a2a2a">800</text>
<line x1="354.65000000000003" y1="299.41150000000005" x2="354.65000000000003" y2="295.51200000000006" stroke="#111" stroke-width="1"/>
<line x1="348.15000000000003" y1="295.51200000000006" x2="361.15000000000003" y2="295.51200000000006" stroke="#111" stroke-width="1"/>
<rect x="342.6" y="299.41150000000005" width="24.1" height="89.68849999999998" fill="#0580ba" stroke="#1e1e1e" stroke-width="0.9"/>
<line x1="388.35" y1="351.34575" x2="388.35" y2="347.80075" stroke="#111" stroke-width="1"/>
<line x1="381.85" y1="347.80075" x2="394.85" y2="347.80075" stroke="#111" stroke-width="1"/>
<rect x="376.3" y="351.34575" width="24.1" height="37.75425000000001" fill="#04a14b" stroke="#1e1e1e" stroke-width="0.9"/>
<circle cx="354.8" cy="277.3" r="2.2" fill="#111"/>
<circle cx="346.2" cy="291.2" r="2.2" fill="#111"/>
<circle cx="354.8" cy="290.2" r="2.2" fill="#111"/>
<circle cx="346.2" cy="302.9" r="2.2" fill="#111"/>
<circle cx="354.8" cy="300.8" r="2.2" fill="#111"/>
<circle cx="363.6" cy="303.9" r="2.2" fill="#111"/>
<circle cx="354.8" cy="305.9" r="2.2" fill="#111"/>
<circle cx="346.2" cy="309.6" r="2.2" fill="#111"/>
<circle cx="363.6" cy="309.6" r="2.2" fill="#111"/>
<circle cx="388.5" cy="332.1" r="2.2" fill="#111"/>
<circle cx="388.5" cy="339.9" r="2.2" fill="#111"/>
<circle cx="388.5" cy="346" r="2.2" fill="#111"/>
<circle cx="377.7" cy="350.1" r="2.2" fill="#111"/>
<circle cx="383.4" cy="353.1" r="2.2" fill="#111"/>
<circle cx="388.5" cy="353.5" r="2.2" fill="#111"/>
<circle cx="393.6" cy="353.1" r="2.2" fill="#111"/>
<circle cx="399.2" cy="351.1" r="2.2" fill="#111"/>
<circle cx="388.5" cy="359.7" r="2.2" fill="#111"/>
<circle cx="388.5" cy="365.4" r="2.2" fill="#111"/>
<line x1="328.8" y1="389.1" x2="414.3" y2="389.1" stroke="#3a3a3a" stroke-width="1"/>
<line x1="354.65000000000003" y1="389.1" x2="354.65000000000003" y2="392.1" stroke="#3a3a3a" stroke-width="1"/>
<line x1="388.35" y1="389.1" x2="388.35" y2="392.1" stroke="#3a3a3a" stroke-width="1"/>
<text x="356.45000000000005" y="396.5" font-size="9" text-anchor="end" fill="#2a2a2a" transform="rotate(-45 356.45000000000005 396.5)">CD45.1</text>
<text x="390.15000000000003" y="396.5" font-size="9" text-anchor="end" fill="#2a2a2a" transform="rotate(-45 390.15000000000003 396.5)">CD45.2</text>
<text x="374.59999999999997" y="247.1" font-size="7.6" text-anchor="middle" fill="#333">p&lt;0.0001</text>
<line x1="358.3" y1="249.7" x2="392.5" y2="249.7" stroke="#555" stroke-width="0.9"/>
<text x="304.0" y="312.35" font-size="10.95" font-weight="bold" text-anchor="middle" fill="#1a1a1a" transform="rotate(-90 304.0 312.35)">gMFI T-bet of CD8+ CD3+</text>
<line x1="460.5" y1="247.1" x2="460.5" y2="389.0" stroke="#3a3a3a" stroke-width="1"/>
<line x1="458.0" y1="388.5" x2="460.5" y2="388.5" stroke="#3a3a3a" stroke-width="1"/>
<text x="457.5" y="391.0" font-size="10.3" text-anchor="end" fill="#2a2a2a">0</text>
<line x1="458.0" y1="360.22" x2="460.5" y2="360.22" stroke="#3a3a3a" stroke-width="1"/>
<text x="457.5" y="362.72" font-size="10.3" text-anchor="end" fill="#2a2a2a">100</text>
<line x1="458.0" y1="331.94" x2="460.5" y2="331.94" stroke="#3a3a3a" stroke-width="1"/>
<text x="457.5" y="334.44" font-size="10.3" text-anchor="end" fill="#2a2a2a">200</text>
<line x1="458.0" y1="303.65999999999997" x2="460.5" y2="303.65999999999997" stroke="#3a3a3a" stroke-width="1"/>
<text x="457.5" y="306.15999999999997" font-size="10.3" text-anchor="end" fill="#2a2a2a">300</text>
<line x1="458.0" y1="275.38" x2="460.5" y2="275.38" stroke="#3a3a3a" stroke-width="1"/>
<text x="457.5" y="277.88" font-size="10.3" text-anchor="end" fill="#2a2a2a">400</text>
<line x1="458.0" y1="247.1" x2="460.5" y2="247.1" stroke="#3a3a3a" stroke-width="1"/>
<text x="457.5" y="249.6" font-size="10.3" text-anchor="end" fill="#2a2a2a">500</text>
<line x1="486.65000000000003" y1="323.73879999999997" x2="486.65000000000003" y2="318.9312" stroke="#111" stroke-width="1"/>
<line x1="480.15000000000003" y1="318.9312" x2="493.15000000000003" y2="318.9312" stroke="#111" stroke-width="1"/>
<rect x="474.6" y="323.73879999999997" width="24.1" height="64.76120000000003" fill="#0580ba" stroke="#1e1e1e" stroke-width="0.9"/>
<line x1="520.35" y1="309.31600000000003" x2="520.35" y2="302.52880000000005" stroke="#111" stroke-width="1"/>
<line x1="513.85" y1="302.52880000000005" x2="526.85" y2="302.52880000000005" stroke="#111" stroke-width="1"/>
<rect x="508.3" y="309.31600000000003" width="24.1" height="79.18399999999997" fill="#04a14b" stroke="#1e1e1e" stroke-width="0.9"/>
<circle cx="486.5" cy="302.4" r="2.2" fill="#111"/>
<circle cx="477.7" cy="309.1" r="2.2" fill="#111"/>
<circle cx="495" cy="310.1" r="2.2" fill="#111"/>
<circle cx="486.5" cy="314" r="2.2" fill="#111"/>
<circle cx="486.5" cy="320.4" r="2.2" fill="#111"/>
<circle cx="477.7" cy="329.6" r="2.2" fill="#111"/>
<circle cx="486.5" cy="327.6" r="2.2" fill="#111"/>
<circle cx="495" cy="331.1" r="2.2" fill="#111"/>
<circle cx="486.5" cy="333.7" r="2.2" fill="#111"/>
<circle cx="486.5" cy="347" r="2.2" fill="#111"/>
<circle cx="520.2" cy="275.7" r="2.2" fill="#111"/>
<circle cx="520.2" cy="282.4" r="2.2" fill="#111"/>
<circle cx="520.2" cy="295.3" r="2.2" fill="#111"/>
<circle cx="515.9" cy="307.8" r="2.2" fill="#111"/>
<circle cx="524.7" cy="309.2" r="2.2" fill="#111"/>
<circle cx="515.9" cy="312.7" r="2.2" fill="#111"/>
<circle cx="524.7" cy="314.7" r="2.2" fill="#111"/>
<circle cx="520.2" cy="321" r="2.2" fill="#111"/>
<circle cx="515.9" cy="331.3" r="2.2" fill="#111"/>
<circle cx="524.7" cy="331.3" r="2.2" fill="#111"/>
<line x1="460.0" y1="388.5" x2="546.4" y2="388.5" stroke="#3a3a3a" stroke-width="1"/>
<line x1="486.65000000000003" y1="388.5" x2="486.65000000000003" y2="391.5" stroke="#3a3a3a" stroke-width="1"/>
<line x1="520.35" y1="388.5" x2="520.35" y2="391.5" stroke="#3a3a3a" stroke-width="1"/>
<text x="488.45000000000005" y="395.9" font-size="9" text-anchor="end" fill="#2a2a2a" transform="rotate(-45 488.45000000000005 395.9)">CD45.1</text>
<text x="522.15" y="395.9" font-size="9" text-anchor="end" fill="#2a2a2a" transform="rotate(-45 522.15 395.9)">CD45.2</text>
<text x="504.05" y="247.6" font-size="7.6" text-anchor="middle" fill="#333">p=0.0008</text>
<line x1="487.5" y1="250.2" x2="522.2" y2="250.2" stroke="#555" stroke-width="0.9"/>
<text x="434.2" y="314.55" font-size="10.8" font-weight="bold" text-anchor="middle" fill="#1a1a1a" transform="rotate(-90 434.2 314.55)">gMFI Eomes of CD8+ CD3+</text>
<line x1="580.8" y1="247.8" x2="580.8" y2="389.2" stroke="#3a3a3a" stroke-width="1"/>
<line x1="578.3" y1="388.7" x2="580.8" y2="388.7" stroke="#3a3a3a" stroke-width="1"/>
<text x="576.4" y="393.09999999999997" font-size="10.3" text-anchor="end" fill="#2a2a2a">0</text>
<line x1="578.3" y1="353.475" x2="580.8" y2="353.475" stroke="#3a3a3a" stroke-width="1"/>
<text x="576.4" y="357.875" font-size="10.3" text-anchor="end" fill="#2a2a2a">1</text>
<line x1="578.3" y1="318.25" x2="580.8" y2="318.25" stroke="#3a3a3a" stroke-width="1"/>
<text x="576.4" y="322.65" font-size="10.3" text-anchor="end" fill="#2a2a2a">2</text>
<line x1="578.3" y1="283.025" x2="580.8" y2="283.025" stroke="#3a3a3a" stroke-width="1"/>
<text x="576.4" y="287.42499999999995" font-size="10.3" text-anchor="end" fill="#2a2a2a">3</text>
<line x1="578.3" y1="247.8" x2="580.8" y2="247.8" stroke="#3a3a3a" stroke-width="1"/>
<text x="576.4" y="252.20000000000002" font-size="10.3" text-anchor="end" fill="#2a2a2a">4</text>
<line x1="606.55" y1="310.5005" x2="606.55" y2="304.86449999999996" stroke="#111" stroke-width="1"/>
<line x1="600.05" y1="304.86449999999996" x2="613.05" y2="304.86449999999996" stroke="#111" stroke-width="1"/>
<rect x="594.4" y="310.5005" width="24.3" height="78.1995" fill="#0580ba" stroke="#1e1e1e" stroke-width="0.9"/>
<line x1="640.4499999999999" y1="361.929" x2="640.4499999999999" y2="360.52" stroke="#111" stroke-width="1"/>
<line x1="633.9499999999999" y1="360.52" x2="646.9499999999999" y2="360.52" stroke="#111" stroke-width="1"/>
<rect x="628.3" y="361.929" width="24.3" height="26.771000000000015" fill="#04a14b" stroke="#1e1e1e" stroke-width="0.9"/>
<circle cx="606.7" cy="271.5" r="2.2" fill="#111"/>
<circle cx="595.7" cy="307.1" r="2.2" fill="#111"/>
<circle cx="603.5" cy="308.1" r="2.2" fill="#111"/>
<circle cx="608.4" cy="307.1" r="2.2" fill="#111"/>
<circle cx="600.3" cy="311.3" r="2.2" fill="#111"/>
<circle cx="613" cy="310.3" r="2.2" fill="#111"/>
<circle cx="608.4" cy="312.4" r="2.2" fill="#111"/>
<circle cx="604.6" cy="318.1" r="2.2" fill="#111"/>
<circle cx="604.1" cy="324" r="2.2" fill="#111"/>
<circle cx="608.8" cy="322.5" r="2.2" fill="#111"/>
<circle cx="633.8" cy="355.5" r="2.2" fill="#111"/>
<circle cx="651.1" cy="356.7" r="2.2" fill="#111"/>
<circle cx="628.9" cy="359.9" r="2.2" fill="#111"/>
<circle cx="638.4" cy="358.2" r="2.2" fill="#111"/>
<circle cx="633.8" cy="362" r="2.2" fill="#111"/>
<circle cx="642.7" cy="362" r="2.2" fill="#111"/>
<circle cx="638.4" cy="364.1" r="2.2" fill="#111"/>
<circle cx="629.5" cy="365.6" r="2.2" fill="#111"/>
<circle cx="646.9" cy="365.6" r="2.2" fill="#111"/>
<circle cx="651.1" cy="363.5" r="2.2" fill="#111"/>
<line x1="580.3" y1="388.7" x2="666.4" y2="388.7" stroke="#3a3a3a" stroke-width="1"/>
<line x1="606.55" y1="388.7" x2="606.55" y2="391.7" stroke="#3a3a3a" stroke-width="1"/>
<line x1="640.4499999999999" y1="388.7" x2="640.4499999999999" y2="391.7" stroke="#3a3a3a" stroke-width="1"/>
<text x="608.3499999999999" y="396.09999999999997" font-size="9" text-anchor="end" fill="#2a2a2a" transform="rotate(-45 608.3499999999999 396.09999999999997)">CD45.1</text>
<text x="642.2499999999999" y="396.09999999999997" font-size="9" text-anchor="end" fill="#2a2a2a" transform="rotate(-45 642.2499999999999 396.09999999999997)">CD45.2</text>
<text x="624.8500000000001" y="247.8" font-size="7.6" text-anchor="middle" fill="#333">p&lt;0.0001</text>
<line x1="608.2" y1="250.4" x2="643.1" y2="250.4" stroke="#555" stroke-width="0.9"/>
<text x="564.3" y="307.85" font-size="10.9" font-weight="bold" text-anchor="middle" fill="#1a1a1a" transform="rotate(-90 564.3 307.85)">Ratio T-bet/Eomes</text>
<line x1="581.4" y1="477.5" x2="581.4" y2="617.0" stroke="#3a3a3a" stroke-width="1"/>
<line x1="578.9" y1="616.5" x2="581.4" y2="616.5" stroke="#3a3a3a" stroke-width="1"/>
<text x="578.6999999999999" y="620.2" font-size="10.3" text-anchor="end" fill="#2a2a2a">0</text>
<line x1="578.9" y1="583.4" x2="581.4" y2="583.4" stroke="#3a3a3a" stroke-width="1"/>
<text x="578.6999999999999" y="587.1" font-size="10.3" text-anchor="end" fill="#2a2a2a">25</text>
<line x1="578.9" y1="550.3" x2="581.4" y2="550.3" stroke="#3a3a3a" stroke-width="1"/>
<text x="578.6999999999999" y="554.0" font-size="10.3" text-anchor="end" fill="#2a2a2a">50</text>
<line x1="578.9" y1="517.2" x2="581.4" y2="517.2" stroke="#3a3a3a" stroke-width="1"/>
<text x="578.6999999999999" y="520.9000000000001" font-size="10.3" text-anchor="end" fill="#2a2a2a">75</text>
<line x1="578.9" y1="484.1" x2="581.4" y2="484.1" stroke="#3a3a3a" stroke-width="1"/>
<text x="578.6999999999999" y="487.8" font-size="10.3" text-anchor="end" fill="#2a2a2a">100</text>
<line x1="607.0" y1="485.0268" x2="607.0" y2="483.9676" stroke="#111" stroke-width="1"/>
<line x1="602.0" y1="483.9676" x2="612.0" y2="483.9676" stroke="#111" stroke-width="1"/>
<rect x="594.8" y="485.0268" width="24.4" height="31.114000000000033" fill="#04a14b" stroke="#1e1e1e" stroke-width="0.9"/>
<line x1="607.0" y1="516.1408" x2="607.0" y2="515.3464" stroke="#111" stroke-width="1"/>
<line x1="602.0" y1="515.3464" x2="612.0" y2="515.3464" stroke="#111" stroke-width="1"/>
<rect x="594.8" y="516.1408" width="24.4" height="100.35919999999999" fill="#0580ba" stroke="#1e1e1e" stroke-width="0.9"/>
<line x1="640.2" y1="484.8944" x2="640.2" y2="484.1" stroke="#111" stroke-width="1"/>
<line x1="635.2" y1="484.1" x2="645.2" y2="484.1" stroke="#111" stroke-width="1"/>
<rect x="628.1" y="484.8944" width="24.2" height="33.761999999999944" fill="#04a14b" stroke="#1e1e1e" stroke-width="0.9"/>
<line x1="640.2" y1="518.6564" x2="640.2" y2="517.9943999999999" stroke="#111" stroke-width="1"/>
<line x1="635.2" y1="517.9943999999999" x2="645.2" y2="517.9943999999999" stroke="#111" stroke-width="1"/>
<rect x="628.1" y="518.6564" width="24.2" height="97.84360000000004" fill="#0580ba" stroke="#1e1e1e" stroke-width="0.9"/>
<line x1="580.9" y1="616.5" x2="666.4" y2="616.5" stroke="#3a3a3a" stroke-width="1"/>
<line x1="607.0" y1="616.5" x2="607.0" y2="619.5" stroke="#3a3a3a" stroke-width="1"/>
<line x1="640.2" y1="616.5" x2="640.2" y2="619.5" stroke="#3a3a3a" stroke-width="1"/>
<text x="607.4" y="627.2" font-size="8.9" text-anchor="middle" fill="#2a2a2a">Tumor</text>
<text x="640.4" y="627.2" font-size="8.9" text-anchor="middle" fill="#2a2a2a">dLN</text>
<text x="562.5" y="548" font-size="10.8" font-weight="bold" text-anchor="middle" fill="#1a1a1a" transform="rotate(-90 562.5 548)">% CD3+ CD8+</text>
<rect x="604.8" y="442.7" width="11.8" height="6.6" fill="#0580ba" stroke="#1e1e1e" stroke-width="0.8"/>
<rect x="604.8" y="457.6" width="11.8" height="6.6" fill="#04a14b" stroke="#1e1e1e" stroke-width="0.8"/>
<text x="623.3" y="448.8" font-size="9.5" text-anchor="start" fill="#2a2a2a">Cis</text>
<text x="623.3" y="464.1" font-size="9.5" text-anchor="start" fill="#2a2a2a">Trans</text>
</svg>
</body></html>
